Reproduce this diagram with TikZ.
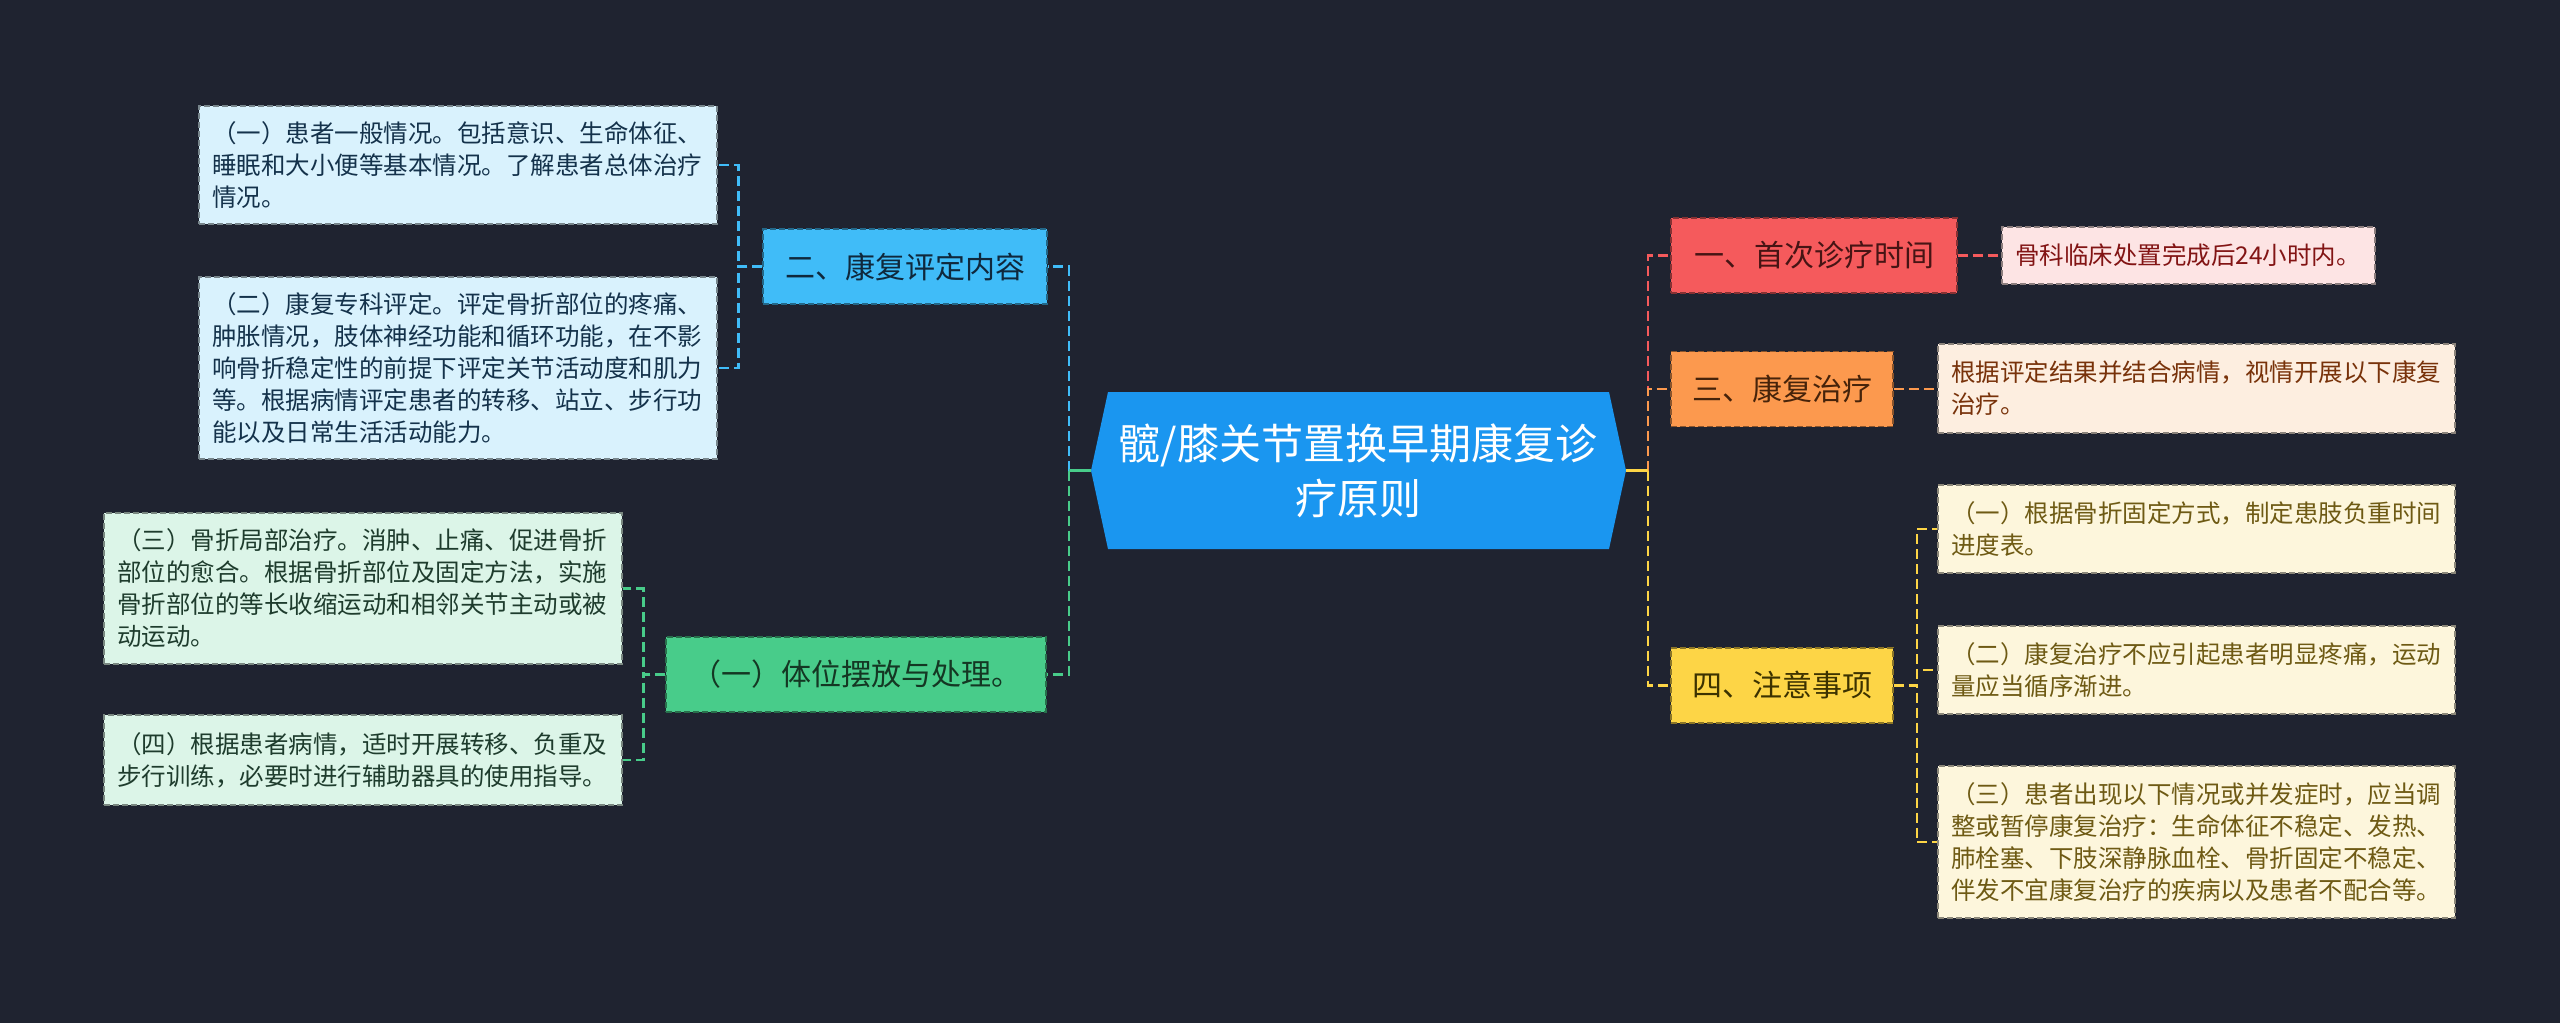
\documentclass[tikz,border=0pt]{standalone}
\usepackage{fontspec}
\setmainfont{Noto Sans CJK SC}
\definecolor{bgc}{RGB}{31,35,48}
\definecolor{cC}{RGB}{26,150,240}
\definecolor{cB}{RGB}{64,188,248}
\definecolor{cBl}{RGB}{217,242,253}
\definecolor{tBl}{RGB}{20,50,75}
\definecolor{tB}{RGB}{15,40,60}
\definecolor{cG}{RGB}{72,204,138}
\definecolor{cGl}{RGB}{220,245,232}
\definecolor{tG}{RGB}{20,55,35}
\definecolor{tGl}{RGB}{30,60,45}
\definecolor{cR}{RGB}{245,90,92}
\definecolor{cRl}{RGB}{253,228,228}
\definecolor{tR}{RGB}{70,20,20}
\definecolor{tRl}{RGB}{130,20,20}
\definecolor{cO}{RGB}{252,153,78}
\definecolor{cOl}{RGB}{253,238,224}
\definecolor{tO}{RGB}{70,35,10}
\definecolor{tOl}{RGB}{120,50,10}
\definecolor{cY}{RGB}{253,213,70}
\definecolor{cYl}{RGB}{253,246,220}
\definecolor{tY}{RGB}{60,50,0}
\definecolor{tYl}{RGB}{110,90,20}
\begin{document}
\begin{tikzpicture}[x=1pt,y=-1pt,
  conn/.style={line width=2.5pt, dash pattern=on 10pt off 5pt},
  stubline/.style={line width=2.5pt},
  topic/.style n args={3}{draw=#1!55!black, fill=#1, text=#2, line width=1.5pt, dash pattern=on 6pt off 3pt, font=\fontsize{30}{36}\selectfont, inner sep=0pt, minimum height=75pt, minimum width=#3},
  leaf/.style n args={4}{draw=#1!55!black, fill=#1, text=#2, line width=1.5pt, dash pattern=on 6pt off 3pt, font=\fontsize{24.5}{32}\selectfont, inner xsep=13pt, inner ysep=0pt, align=left, text width=#3, minimum height=#4},
]
\useasboundingbox (0,0) rectangle (2560,1023);
\fill[bgc] (0,0) rectangle (2560,1023);

% central topic
\fill[cC] (1108,392) -- (1609,392) -- (1626,470.5) -- (1609,549) -- (1108,549) -- (1091,470.5) -- cycle;
\node (C) at (1358,470.5) [text=white, font=\fontsize{42}{55}\selectfont, align=center, inner sep=0pt] {髋/膝关节置换早期康复诊\\疗原则};
\coordinate (Cw) at (1091,470.5);
\coordinate (Ce) at (1626,470.5);
\coordinate (LT) at (1069,470.5);
\coordinate (RT) at (1648,470.5);

% left topics
\node[topic={cB}{tB}{284pt}] (B) at (905,266.5) {二、康复评定内容};
\node[topic={cG}{tG}{380pt}] (G) at (856,674.5) {（一）体位摆放与处理。};

\node[leaf={cBl}{tBl}{492pt}{118pt}] (L1) at (458,165) {（一）患者一般情况。包括意识、生命体征、\\睡眠和大小便等基本情况。了解患者总体治疗\\情况。};
\node[leaf={cBl}{tBl}{492pt}{182pt}] (L2) at (458,368) {（二）康复专科评定。评定骨折部位的疼痛、\\肿胀情况，肢体神经功能和循环功能，在不影\\响骨折稳定性的前提下评定关节活动度和肌力\\等。根据病情评定患者的转移、站立、步行功\\能以及日常生活活动能力。};
\node[leaf={cGl}{tGl}{492pt}{151pt}] (L3) at (363,588.5) {（三）骨折局部治疗。消肿、止痛、促进骨折\\部位的愈合。根据骨折部位及固定方法，实施\\骨折部位的等长收缩运动和相邻关节主动或被\\动运动。};
\node[leaf={cGl}{tGl}{492pt}{90pt}] (L4) at (363,760) {（四）根据患者病情，适时开展转移、负重及\\步行训练，必要时进行辅助器具的使用指导。};

% right topics
\node[topic={cR}{tR}{286pt}] (R) at (1814,255.5) {一、首次诊疗时间};
\node[topic={cO}{tO}{222pt}] (O) at (1782,389) {三、康复治疗};
\node[topic={cY}{tY}{222pt}] (Y) at (1782,685.5) {四、注意事项};

\node[leaf={cRl}{tRl}{347pt}{57pt}] (R1) at (2188.5,255.5) {骨科临床处置完成后24小时内。};
\node[leaf={cOl}{tOl}{491pt}{89pt}] (R2) at (2196.5,388.5) {根据评定结果并结合病情，视情开展以下康复\\治疗。};
\node[leaf={cYl}{tYl}{491pt}{88pt}] (R3) at (2196.5,529) {（一）根据骨折固定方式，制定患肢负重时间\\进度表。};
\node[leaf={cYl}{tYl}{491pt}{88pt}] (R4) at (2196.5,670) {（二）康复治疗不应引起患者明显疼痛，运动\\量应当循序渐进。};
\node[leaf={cYl}{tYl}{491pt}{152pt}] (R5) at (2196.5,842) {（三）患者出现以下情况或并发症时，应当调\\整或暂停康复治疗：生命体征不稳定、发热、\\肺栓塞、下肢深静脉血栓、骨折固定不稳定、\\伴发不宜康复治疗的疾病以及患者不配合等。};

% connectors left
\draw[conn, cB] (LT) |- (B.east);
\draw[conn, cG] (LT) |- (G.east);
\draw[stubline, cG] (Cw) -- (LT);
\draw[conn, cB] (B.west) -- ++(-24,0) |- (L1.east);
\draw[conn, cB] (B.west) -- ++(-24,0) |- (L2.east);
\draw[conn, cG] (G.west) -- ++(-22,0) |- (L3.east);
\draw[conn, cG] (G.west) -- ++(-22,0) |- (L4.east);

% connectors right
\draw[conn, cR] (RT) |- (R.west);
\draw[conn, cO] (RT) |- (O.west);
\draw[conn, cY] (RT) |- (Y.west);
\draw[stubline, cY] (Ce) -- (RT);
\draw[conn, cR] (R.east) -- (R.east -| R1.west);
\draw[conn, cO] (O.east) -- (O.east -| R2.west);
\draw[conn, cY] (Y.east) -- ++(23,0) |- (R3.west);
\draw[conn, cY] (Y.east) -- ++(23,0) |- (R4.west);
\draw[conn, cY] (Y.east) -- ++(23,0) |- (R5.west);
\end{tikzpicture}
\end{document}
